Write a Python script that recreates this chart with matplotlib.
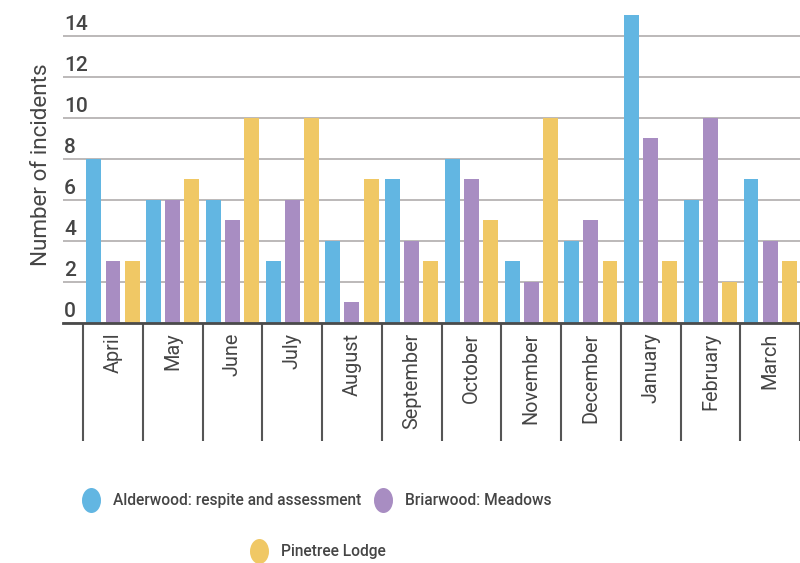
import matplotlib
matplotlib.use("Agg")
import matplotlib.pyplot as plt
from matplotlib.lines import Line2D
from matplotlib.path import Path
import numpy as np

# Monthly incident counts per unit
months = ["April", "May", "June", "July", "August", "September",
          "October", "November", "December", "January", "February", "March"]
alderwood = [8, 6, 6, 3, 4, 7, 8, 3, 4, 15, 6, 7]
briarwood = [3, 6, 5, 6, 1, 4, 7, 2, 5, 9, 10, 4]
pinetree = [3, 7, 10, 10, 7, 3, 5, 10, 3, 3, 2, 3]

series_names = ["Alderwood: respite and assessment", "Briarwood: Meadows", "Pinetree Lodge"]
series_values = [alderwood, briarwood, pinetree]
colors = ["#62b6e2", "#a88dc2", "#f0c865"]
y_ticks = [0, 2, 4, 6, 8, 10, 12, 14]

TEXT = "#454545"
plt.rcParams["font.family"] = ["Roboto", "DejaVu Sans"]

fig = plt.figure(figsize=(8, 5.63), dpi=100)
ax = fig.add_axes([0.07875, 0.42629, 0.92125, 0.57371])

x = np.arange(len(months))
offsets = [-0.32, 0.0, 0.32]
for vals, off, col in zip(series_values, offsets, colors):
    ax.bar(x + off, vals, width=0.25, color=col, linewidth=0, zorder=2)

ax.set_xlim(-0.837, 11.401)
ax.set_ylim(0, 15.756)

# horizontal grid with value labels sitting above each line
ax.set_yticks(y_ticks)
ax.yaxis.grid(True, color="#aaa6a6", linewidth=1.1)
ax.set_axisbelow(True)
ax.tick_params(axis="y", length=0, labelleft=False)
for v in y_ticks:
    ax.annotate(str(v), xy=(0, v), xycoords=("axes fraction", "data"),
                xytext=(1, 6), textcoords="offset pixels",
                ha="left", va="baseline", fontsize=15, fontweight="medium",
                color=TEXT)

# month labels and group separators
ax.set_xticks(x)
ax.set_xticklabels(months, rotation=90, fontsize=14.3, color=TEXT)
ax.tick_params(axis="x", which="major", length=0, pad=7)
ax.set_xticks(np.arange(-0.5, 12, 1), minor=True)
ax.tick_params(axis="x", which="minor", length=85, width=1.5,
               color="#555555", direction="out")

for s in ("top", "right", "left"):
    ax.spines[s].set_visible(False)
ax.spines["bottom"].set_color("#4a4a4a")
ax.spines["bottom"].set_linewidth(2.0)
ax.spines["bottom"].set_zorder(3)

ax.set_ylabel("Number of incidents", fontsize=16.2, color=TEXT)
ax.yaxis.set_label_coords(-0.015, 0.489)

# slightly tall oval legend markers
circle = Path.unit_circle()
oval = Path(circle.vertices * np.array([0.76, 1.0]), circle.codes)
handles = [Line2D([], [], linestyle="none", marker=oval, markersize=18,
                  markerfacecolor=c, markeredgewidth=0) for c in colors]

leg_kw = dict(frameon=False, fontsize=11.2, handlelength=1.6,
              handletextpad=0.61, columnspacing=0.61, borderpad=0,
              loc="center", labelcolor=TEXT)
leg1 = fig.legend(handles[:2], series_names[:2], ncol=2,
                  bbox_to_anchor=(0.3935, 0.111), **leg_kw)
leg2 = fig.legend(handles[2:], series_names[2:], ncol=1,
                  bbox_to_anchor=(0.3947, 0.0205), **leg_kw)
for leg in (leg1, leg2):
    for t in leg.get_texts():
        t.set_fontweight("medium")

fig.savefig("out.png", dpi=100)
